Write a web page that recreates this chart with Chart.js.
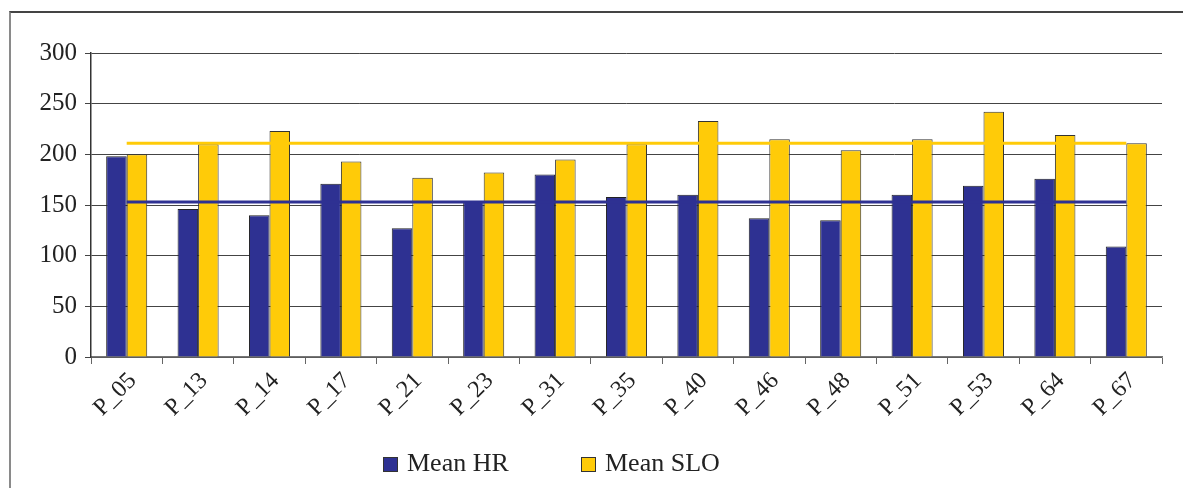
<!DOCTYPE html>
<html>
<head>
<meta charset="utf-8">
<script src="https://cdn.jsdelivr.net/npm/chart.js@4"></script>
<style>
  body { margin: 0; background: #fff; }
  #wrap { position: relative; width: 1183px; height: 488px; overflow: hidden; }
  #frame { position: absolute; left: 9px; top: 11px; width: 1200px; height: 500px;
           border-left: 2px solid #8a8a8a; border-top: 2px solid #444; }
  #chart { position: absolute; left: 0; top: 0; }
  .key { position: absolute; top: 448px; font-family: "Liberation Serif", serif; font-size: 26px;
         color: #222; line-height: 30px; white-space: nowrap; }
  .key span { display: inline-block; width: 13px; height: 13px; border: 1px solid #333;
              margin-right: 9px; vertical-align: -1px; }
</style>
</head>
<body>
<div id="wrap">
  <div id="frame"></div>
  <canvas id="chart" width="1183" height="488"></canvas>
  <div class="key" style="left:383px"><span style="background:#2e3192"></span>Mean HR</div>
  <div class="key" style="left:581px"><span style="background:#ffcb08"></span>Mean SLO</div>
</div>
<script>
const labels = ["P_05", "P_13", "P_14", "P_17", "P_21", "P_23", "P_31", "P_35",
  "P_40", "P_46", "P_48", "P_51", "P_53", "P_64", "P_67"];
const meanHR = [198, 146, 140, 171, 127, 154, 180, 158, 160, 137, 135, 160, 169, 176, 109];
const meanSLO = [200, 210, 223, 193, 177, 182, 195, 210, 233, 215, 204, 215, 242, 219, 211];
// overall averages, drawn as flat lines across the categories
const avgHR = [153, 153, 153, 153, 153, 153, 153, 153, 153, 153, 153, 153, 153, 153, 153];
const avgSLO = [211, 211, 211, 211, 211, 211, 211, 211, 211, 211, 211, 211, 211, 211, 211];
const yTicks = [0, 50, 100, 150, 200, 250, 300];

const blue = "#2e3192";
const yellow = "#ffcb08";
const serif = "'Liberation Serif', 'Times New Roman', serif";

const ctx = document.getElementById("chart");

new Chart(ctx, {
  data: {
    labels: labels,
    datasets: [
      {
        type: "line",
        label: "avg HR",
        data: avgHR,
        borderColor: blue,
        borderWidth: 3,
        pointRadius: 0,
        order: 0,
      },
      {
        type: "line",
        label: "avg SLO",
        data: avgSLO,
        borderColor: yellow,
        borderWidth: 3,
        pointRadius: 0,
        order: 0,
      },
      {
        type: "bar",
        label: "Mean HR",
        data: meanHR,
        backgroundColor: blue,
        borderColor: "#222",
        borderWidth: 1,
        barPercentage: 1,
        categoryPercentage: 0.575,
        order: 1,
      },
      {
        type: "bar",
        label: "Mean SLO",
        data: meanSLO,
        backgroundColor: yellow,
        borderColor: "#333",
        borderWidth: 1,
        barPercentage: 1,
        categoryPercentage: 0.575,
        order: 1,
      },
    ],
  },
  options: {
    responsive: false,
    animation: false,
    layout: { padding: { left: 0, top: 53, right: 21, bottom: 0 } },
    plugins: { legend: { display: false }, tooltip: { enabled: false } },
    scales: {
      x: {
        offset: true,
        grid: { offset: true, drawOnChartArea: false, color: "#666", tickLength: 7 },
        border: { color: "#777", width: 1.5 },
        ticks: {
          autoSkip: false,
          minRotation: 45,
          maxRotation: 45,
          padding: 3,
          labelOffset: 6,
          color: "#222",
          font: { family: serif, size: 24 },
        },
        afterFit: function (scale) {
          scale.height = 131;
        },
      },
      y: {
        min: 0,
        max: 300,
        afterBuildTicks: function (scale) {
          scale.ticks = yTicks.map((v) => ({ value: v }));
        },
        grid: { color: "#444", lineWidth: 1, tickLength: 6 },
        border: { color: "#333", width: 1.5 },
        ticks: {
          padding: 8,
          color: "#222",
          font: { family: serif, size: 25 },
        },
        afterFit: function (scale) {
          scale.width = 91;
        },
      },
    },
  },
});
</script>
</body>
</html>
